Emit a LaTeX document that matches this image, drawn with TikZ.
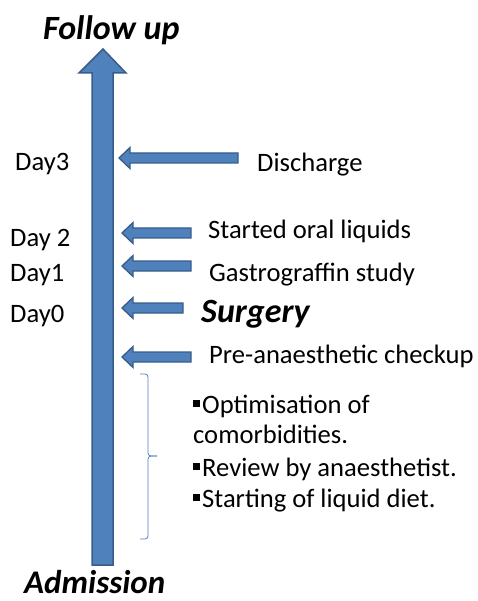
\documentclass[tikz,border=0pt]{standalone}
\usepackage{fontspec}
\setmainfont{Carlito}
\definecolor{ablue}{HTML}{4F81BD}
\definecolor{aedge}{HTML}{385D8A}
\begin{document}
\begin{tikzpicture}[x=1pt,y=-1pt,
  lbl/.style={inner sep=0pt,anchor=base west,font=\fontsize{26.6}{30}\selectfont},
  big/.style={inner sep=0pt,anchor=base west,font=\fontsize{34}{38}\selectfont\bfseries\itshape},
  larrow/.pic={\fill[ablue,draw=aedge,line width=1.3pt,line join=miter]
     (0,0) -- (11,-10.5) -- (11,-5) -- (#1,-5) -- (#1,5) -- (11,5) -- (11,10.5) -- cycle;}]
\useasboundingbox (0,0) rectangle (477,601);
% main timeline arrow
\fill[ablue,draw=aedge,line width=1.5pt]
  (103,49) -- (126,73) -- (113,73) -- (113,565) -- (92,565) -- (92,73) -- (79,73) -- cycle;
% small arrows
\pic at (119,158) {larrow=119};
\pic at (122,233) {larrow=69};
\pic at (122,266) {larrow=69};
\pic at (122,308) {larrow=61};
\pic at (122,357) {larrow=69};
% bracket
\draw[ablue,line width=0.8pt,rounded corners=3pt] (140,374) -- (148,374) -- (148,456) -- (157,456);
\draw[ablue,line width=0.8pt,rounded corners=3pt] (157,456) -- (148,456) -- (148,539) -- (140,539);
% titles
\node[big] (fu) at (43,40) {Follow up};
\node[big,font=\fontsize{33}{37}\selectfont\bfseries\itshape] (adm) at (24,593) {Admission};
% day labels
\node[lbl] (d3) at (15,171) {Day3};
\node[lbl] (d2) at (10,247) {Day 2};
\node[lbl] (d1) at (10,281) {Day1};
\node[lbl] (d0) at (10,322) {Day0};
% events
\node[lbl] (dis) at (257,172) {Discharge};
\node[lbl] (oral) at (208,239) {Started oral liquids};
\node[lbl] (gas) at (209,281) {Gastrograffin study};
\node[big] (sur) at (201,322) {Surgery};
\node[lbl] (pre) at (209,363) {Pre-anaesthetic checkup};
% bullets
\newcommand{\sqb}{\rule[6.5pt]{7pt}{7pt}\hspace{2pt}}
\node[lbl] (b1) at (193,413) {\sqb Optimisation of};
\node[lbl] (b2) at (193,443) {comorbidities.};
\node[lbl] (b3) at (193,476) {\sqb Review by anaesthetist.};
\node[lbl] (b4) at (193,507) {\sqb Starting of liquid diet.};
\end{tikzpicture}
\end{document}
